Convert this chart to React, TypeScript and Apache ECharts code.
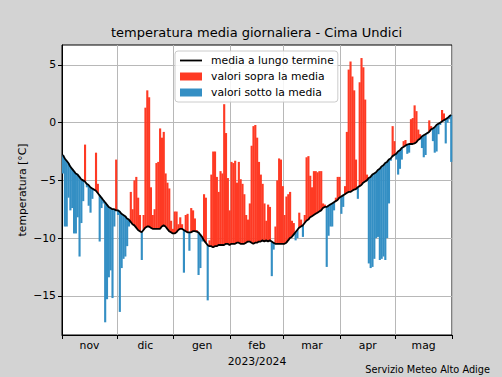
import React, { useEffect, useRef } from 'react';
import * as echarts from 'echarts';

// Daily series from 1 Nov 2023 (day 0) to 31 May 2024 (day 212)
const monthLabels = ['nov', 'dic', 'gen', 'feb', 'mar', 'apr', 'mag'];
const monthStartDays = [0, 30, 61, 92, 121, 152, 182, 213];
const yTickValues = [-15, -10, -5, 0, 5];

const longTermMean = [
  -2.8, -3.1, -3.3, -3.5, -3.8, -4.0, -4.2, -4.4, -4.5, -4.7,
  -4.9, -5.0, -5.1, -5.3, -5.4, -5.6, -5.7, -5.8, -5.9, -6.1,
  -6.3, -6.5, -6.7, -6.9, -7.1, -7.3, -7.4, -7.5, -7.5, -7.6,
  -7.6, -7.7, -7.9, -8.0, -8.1, -8.3, -8.4, -8.6, -8.8, -8.9,
  -9.1, -9.3, -9.4, -9.5, -9.3, -9.1, -9.0, -9.0, -9.1, -9.2,
  -9.2, -9.2, -9.2, -9.2, -9.0, -8.9, -9.0, -9.2, -9.4, -9.5,
  -9.6, -9.6, -9.5, -9.3, -9.2, -9.2, -9.3, -9.4, -9.5, -9.5,
  -9.5, -9.4, -9.4, -9.45, -9.5, -9.7, -9.9, -10.2, -10.4, -10.6,
  -10.7, -10.7, -10.8, -10.7, -10.7, -10.6, -10.6, -10.6, -10.6, -10.5,
  -10.5, -10.6, -10.5, -10.5, -10.5, -10.4, -10.4, -10.5, -10.5, -10.5,
  -10.4, -10.3, -10.3, -10.4, -10.5, -10.4, -10.4, -10.3, -10.3, -10.2,
  -10.3, -10.2, -10.3, -10.2, -10.3, -10.4, -10.5, -10.5, -10.5, -10.5,
  -10.5, -10.5, -10.4, -10.2, -10.0, -9.9, -9.7, -9.5, -9.3, -9.1,
  -9.0, -8.9, -8.7, -8.5, -8.4, -8.2, -8.1, -8.0, -7.9, -7.8,
  -7.7, -7.6, -7.4, -7.3, -7.3, -7.2, -7.1, -7.0, -6.9, -6.8,
  -6.7, -6.5, -6.4, -6.3, -6.2, -6.1, -6.0, -6.0, -5.9, -5.8,
  -5.75, -5.6, -5.5, -5.4, -5.2, -5.1, -5.0, -4.8, -4.7, -4.5,
  -4.4, -4.3, -4.1, -4.0, -3.8, -3.7, -3.5, -3.4, -3.2, -3.1,
  -2.9, -2.8, -2.7, -2.5, -2.4, -2.2, -2.1, -2.0, -1.9, -1.85,
  -1.85, -1.85, -1.8, -1.7, -1.5, -1.4, -1.2, -1.1, -1.0, -0.9,
  -0.8, -0.6, -0.5, -0.4, -0.2, -0.1, 0.0, 0.1, 0.2, 0.3,
  0.4, 0.55, 0.67,
];

const dailyTemperature = [
  -4.4, -9.0, -9.0, -6.5, -7.6, -7.4, -9.6, -9.6, -8.2, -11.6,
  -8.7, -6.8, -1.9, -5.6, -7.2, -7.8, -6.6, -5.9, -2.6, -5.3,
  -10.3, -7.4, -7.0, -17.3, -15.3, -13.4, -12.8, -15.2, -9.0, -3.2,
  -8.0, -16.4, -12.6, -11.8, -11.6, -10.7, -9.0, -6.0, -7.5, -5.0,
  -4.7, -6.5, -8.0, -11.9, -8.0, 1.3, 2.8, 2.2, -5.6, -8.0,
  -7.5, -3.5, -3.4, -0.5, -1.3, -0.8, -4.4, -5.2, -5.7, -8.5,
  -9.2, -7.7, -7.7, -8.8, -8.2, -8.8, -13.0, -8.0, -7.9, -11.1,
  -7.4, -7.6, -8.3, -9.3, -13.2, -12.6, -10.3, -6.2, -6.5, -15.4,
  -10.2, -4.5, -2.5, -2.5, -4.7, -6.0, -4.2, -4.4, 1.6, -0.9,
  -4.8, -7.6, -3.4, -3.5, -3.3, -5.2, -3.4, -4.9, -5.3, -6.2,
  -8.0, -8.4, -7.0, -2.0, -0.3, -0.2, -1.3, -3.4, -4.5, -5.3,
  -7.0, -8.5, -7.1, -7.3, -13.3, -11.0, -9.0, -5.0, -3.1, -3.2,
  -5.5, -8.0, -6.4, -6.2, -6.0, -8.5, -8.7, -10.2, -10.0, -7.8,
  -8.4, -9.9, -8.0, -3.0, -2.9, -4.6, -5.6, -4.2, -4.2, -4.3,
  -4.2, -4.2, -7.0, -7.1, -12.5, -9.8, -9.0, -9.0, -7.6, -6.5,
  -4.7, -4.7, -7.9, -7.3, -5.5, -0.8, 4.6, 5.3, 4.0, 2.8,
  -3.2, -6.6, 3.5, 5.6, 4.8, 2.0, -4.5, -12.2, -12.6, -12.5,
  -11.8, -10.0, -9.9, -11.9, -11.8, -11.6, -11.9, -10.0, -7.0, -3.3,
  -0.3, -1.6, -3.2, -4.5, -4.0, -3.2, -1.6, -1.5, -2.7, -2.6,
  0.3, 0.4, 1.5, 1.0, -0.6, -1.0, -2.2, -3.0, -2.8, -1.0,
  0.2, -0.3, -1.6, -2.6, -2.5, -1.0, -0.2, 1.1, 0.8, -1.8,
  0.0, 0.3, -3.4,
];

const FONT = 'DejaVu Sans';
const RED = '#fe3a24';
const BLUE = '#348fc4';
const GRID = '#b8b8b8';
// thin horizontal bar centred in an 22x8 box (extra move-to points keep the box size)
const LINE_ICON = 'path://M0,0 L0,0 M0,3.1 L22,3.1 L22,4.9 L0,4.9 Z M22,8 L22,8';

export default function App() {
  const ref = useRef<HTMLDivElement>(null);

  useEffect(() => {
    if (!ref.current) return;
    const chart = echarts.init(ref.current, null, { renderer: 'svg' });

    const above: number[][] = [];
    const below: number[][] = [];
    dailyTemperature.forEach((v, i) => {
      const row = [i + 0.5, longTermMean[i], v];
      (v >= longTermMean[i] ? above : below).push(row);
    });
    const meanLine = longTermMean.map((m, i) => [i + 0.5, m]);
    const monthCenters = monthLabels.map((_, k) => (monthStartDays[k] + monthStartDays[k + 1]) / 2);

    const renderBar = (color: string) => (params: any, api: any) => {
      const x = api.value(0);
      const p0 = api.coord([x - 0.5, api.value(1)]);
      const p1 = api.coord([x + 0.5, api.value(2)]);
      return {
        type: 'rect',
        shape: {
          x: p0[0],
          y: Math.min(p0[1], p1[1]),
          width: p1[0] - p0[0] + 0.3,
          height: Math.abs(p1[1] - p0[1]),
        },
        style: { fill: color },
      };
    };

    const minus = (v: number) => (v < 0 ? '\u2212' + Math.abs(v) : String(v));

    chart.setOption({
      animation: false,
      backgroundColor: '#d3d3d3',
      textStyle: { fontFamily: FONT },
      grid: {
        left: 62, right: 50, top: 45, bottom: 42,
        show: true, backgroundColor: '#ffffff', borderColor: '#000', borderWidth: 1,
      },
      xAxis: {
        type: 'value',
        min: 0,
        max: 213,
        name: '2023/2024',
        nameLocation: 'middle',
        nameGap: 20,
        nameTextStyle: { fontFamily: FONT, fontSize: 10.8, color: '#000' },
        axisLine: { show: true, onZero: false, lineStyle: { color: '#000', width: 1 } },
        axisTick: { show: true, length: 4, customValues: monthStartDays, lineStyle: { color: '#000' } },
        axisLabel: {
          customValues: monthCenters,
          margin: 5,
          fontFamily: FONT, fontSize: 10.8, color: '#000',
          formatter: (v: number) => {
            const k = monthCenters.findIndex((c) => Math.abs(c - v) < 0.01);
            return k >= 0 ? monthLabels[k] : '';
          },
        },
        splitLine: { show: true, lineStyle: { color: GRID, width: 1 } },
      },
      yAxis: {
        type: 'value',
        min: -18.4,
        max: 6.73,
        axisLine: { show: true, onZero: false, lineStyle: { color: '#000', width: 1 } },
        axisTick: { show: true, length: 4, customValues: yTickValues, lineStyle: { color: '#000' } },
        axisLabel: {
          customValues: yTickValues,
          margin: 6,
          fontFamily: FONT, fontSize: 10.8, color: '#000',
          formatter: minus,
        },
        splitLine: { show: true, lineStyle: { color: GRID, width: 1 } },
      },
      legend: {
        left: 175,
        top: 51,
        orient: 'vertical',
        itemWidth: 22,
        itemHeight: 8,
        itemGap: 3,
        padding: [3, 4, 3, 5],
        backgroundColor: 'rgba(255,255,255,0.85)',
        borderColor: '#cccccc',
        borderWidth: 1,
        borderRadius: 3,
        textStyle: { fontFamily: FONT, fontSize: 10.8, color: '#000', padding: [0, 0, 0, 4], lineHeight: 13 },
        data: [
          { name: 'media a lungo termine', icon: LINE_ICON, itemStyle: { color: '#000' } },
          { name: 'valori sopra la media', icon: 'rect' },
          { name: 'valori sotto la media', icon: 'rect' },
        ],
      },
      graphic: [
        {
          type: 'text',
          left: 257 - 146,
          top: 26,
          style: {
            text: 'temperatura media giornaliera - Cima Undici',
            font: `13px "${FONT}"`,
            fill: '#000',
          },
        },
        {
          type: 'text',
          x: 22,
          y: 190,
          rotation: Math.PI / 2,
          style: {
            text: 'temperatura [°C]',
            font: `10.8px "${FONT}"`,
            fill: '#000',
            align: 'center',
            verticalAlign: 'middle',
          },
        },
        {
          type: 'text',
          right: 12,
          top: 364,
          style: {
            text: 'Servizio Meteo Alto Adige',
            font: `9.75px "${FONT}"`,
            fill: '#000',
          },
        },
      ],
      series: [
        {
          name: 'valori sopra la media',
          type: 'custom',
          renderItem: renderBar(RED),
          itemStyle: { color: RED },
          encode: { x: 0, y: [1, 2] },
          data: above,
          z: 2,
        },
        {
          name: 'valori sotto la media',
          type: 'custom',
          renderItem: renderBar(BLUE),
          itemStyle: { color: BLUE },
          encode: { x: 0, y: [1, 2] },
          data: below,
          z: 2,
        },
        {
          name: 'media a lungo termine',
          type: 'line',
          data: meanLine,
          symbol: 'none',
          showSymbol: false,
          lineStyle: { color: '#000', width: 1.8 },
          itemStyle: { color: '#000' },
          z: 3,
        },
      ],
    });

    return () => chart.dispose();
  }, []);

  return (
    <div
      ref={ref}
      style={{ position: 'fixed', left: 0, top: 0, width: 502, height: 377 }}
    />
  );
}
